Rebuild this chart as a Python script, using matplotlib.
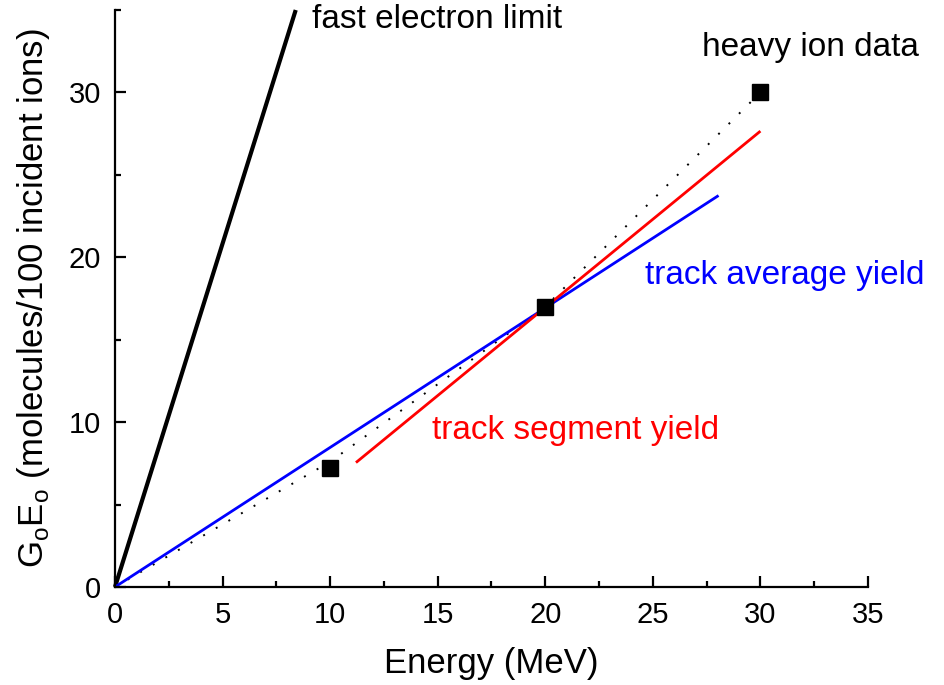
import matplotlib
matplotlib.use("Agg")
import matplotlib.pyplot as plt
from matplotlib.ticker import MultipleLocator

plt.rcParams['font.family'] = ['Liberation Sans', 'DejaVu Sans']

# data
ion_energy = [10, 20, 30]
ion_yield = [7.2, 17.0, 30.0]
dotted_x = [0, 10, 20, 30]
dotted_y = [0, 7.6, 17.0, 30.0]
fast_x = [0, 8.4]
fast_y = [0, 35]
avg_x = [0, 28]
avg_y = [0, 23.7]
seg_x = [11.25, 29.95]
seg_y = [7.6, 27.6]

fig = plt.figure(figsize=(9.45, 6.85), dpi=100)
ax = fig.add_axes([0.1217, 0.1431, 0.9185 - 0.1217, 0.9854 - 0.1431])

ax.plot(fast_x, fast_y, color='black', lw=3.0, solid_capstyle='butt', clip_on=False)
ax.plot(dotted_x, dotted_y, color='black', lw=1.4, ls=(0, (1, 6.5)))
ax.plot(avg_x, avg_y, color='#0000ff', lw=2.0)
ax.plot(seg_x, seg_y, color='#ff0000', lw=2.0)
ax.plot(ion_energy, ion_yield, ls='none', marker='s', ms=11.5, color='black')

ax.set_xlim(0, 35)
ax.set_ylim(0, 35)
ax.xaxis.set_major_locator(MultipleLocator(5))
ax.xaxis.set_minor_locator(MultipleLocator(2.5))
ax.yaxis.set_major_locator(MultipleLocator(10))
ax.yaxis.set_minor_locator(MultipleLocator(5))
for s in ['top', 'right']:
    ax.spines[s].set_visible(False)
for s in ['left', 'bottom']:
    ax.spines[s].set_linewidth(1.6)
ax.tick_params(which='major', direction='in', length=8, width=1.6, labelsize=21, pad=10)
ax.tick_params(which='minor', direction='in', length=4, width=1.6)

ax.set_xlabel('Energy (MeV)', fontsize=25, labelpad=13)
ax.set_ylabel(r'G$_\mathregular{o}$E$_\mathregular{o}$ (molecules/100 incident ions)', fontsize=25, labelpad=12)

ax.text(9.15, 34.4, 'fast electron limit', fontsize=24, color='black', va='center', ha='left')
ax.text(27.3, 32.7, 'heavy ion data', fontsize=24, color='black', va='center', ha='left')
ax.text(24.65, 18.9, 'track average yield', fontsize=24, color='#0000ff', va='center', ha='left')
ax.text(14.75, 9.5, 'track segment yield', fontsize=24, color='#ff0000', va='center', ha='left')

fig.savefig('out.png', dpi=100)
